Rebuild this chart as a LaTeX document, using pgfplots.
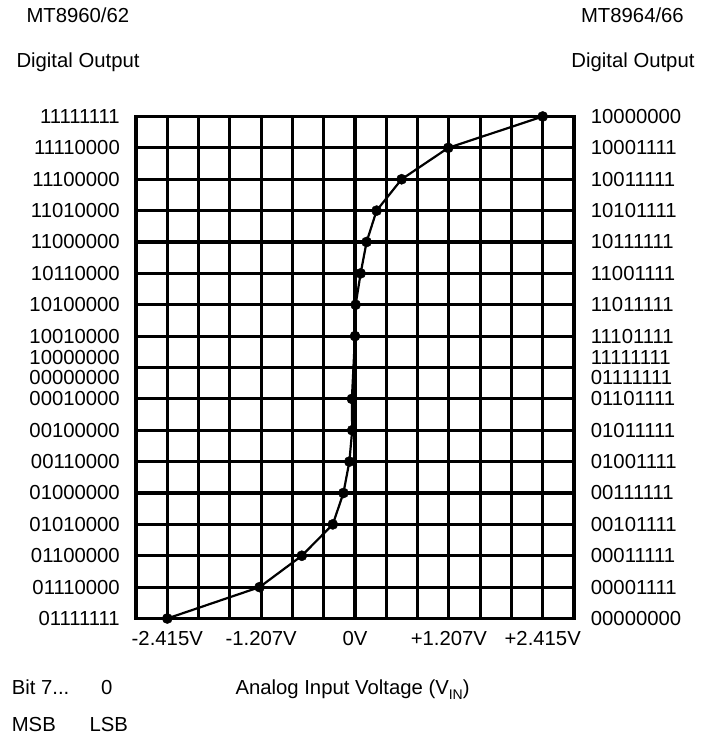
\documentclass[border=0pt]{standalone}
\usepackage{pgfplots}
\pgfplotsset{compat=1.18}
\usepackage{fontspec}
\setmainfont{Liberation Sans}
\newcommand{\lblfont}{\fontsize{20.3pt}{19.3pt}\selectfont}
\begin{document}
\begin{tikzpicture}[x=1pt,y=1pt,font=\lblfont]
\path[use as bounding box] (0,0) rectangle (704,743);
\begin{axis}[
  at={(136pt,124.5pt)}, anchor=south west,
  scale only axis, width=438pt, height=502pt,
  xmin=0, xmax=14, ymin=0, ymax=16,
  xtick={0,...,14}, ytick={0,...,16},
  xticklabels={,-2.415V,,,-1.207V,,,0V,,,+1.207V,,,+2.415V,},
  yticklabels={01111111,01110000,01100000,01010000,01000000,00110000,00100000,00010000,{10000000\\00000000},10010000,10100000,10110000,11000000,11010000,11100000,11110000,11111111},
  grid=major, grid style={black, line width=3.2pt},
  axis line style={black, line width=3.2pt},
  major tick length=0pt,
  tick label style={font=\lblfont, inner sep=0pt},
  yticklabel style={align=right, xshift=-16pt},
  xticklabel style={yshift=-13pt},
  clip=false,
]
\addplot[black, line width=2.2pt, mark=*, mark size=5.1pt, mark options={solid, fill=black, line width=0.4pt}] coordinates {
(1,0) (3.95,1) (5.30,2) (6.29,3) (6.63,4) (6.82,5) (6.91,6) (6.90,7)
(7.00,9) (7.02,10) (7.18,11) (7.37,12) (7.69,13) (8.49,14) (9.98,15) (13,16)
};
\end{axis}
\begin{axis}[
  at={(136pt,124.5pt)}, anchor=south west,
  scale only axis, width=438pt, height=502pt,
  xmin=0, xmax=14, ymin=0, ymax=16,
  xtick=\empty, ytick={0,...,16},
  yticklabel pos=right,
  yticklabels={00000000,00001111,00011111,00101111,00111111,01001111,01011111,01101111,{11111111\\01111111},11101111,11011111,11001111,10111111,10101111,10011111,10001111,10000000},
  axis line style={draw=none},
  major tick length=0pt,
  tick label style={font=\lblfont, inner sep=0pt},
  yticklabel style={align=left, xshift=16.7pt},
]
\addplot[draw=none] coordinates {(0,0)};
\end{axis}
\node[anchor=base west] at (23,720) {MT8960/62};
\node[anchor=base west] at (13,675) {Digital Output};
\node[anchor=base east] at (687.3,720) {MT8964/66};
\node[anchor=base east] at (698,675) {Digital Output};
\node[anchor=base west] at (8.3,48) {Bit 7...};
\node[anchor=base west] at (97.7,48) {0};
\node[anchor=base west] at (232,48) {Analog Input Voltage (V\raisebox{-4.5pt}{\fontsize{14pt}{14pt}\selectfont IN})};
\node[anchor=base west] at (8.3,11.3) {MSB};
\node[anchor=base west] at (86,11.3) {LSB};
\end{tikzpicture}
\end{document}
